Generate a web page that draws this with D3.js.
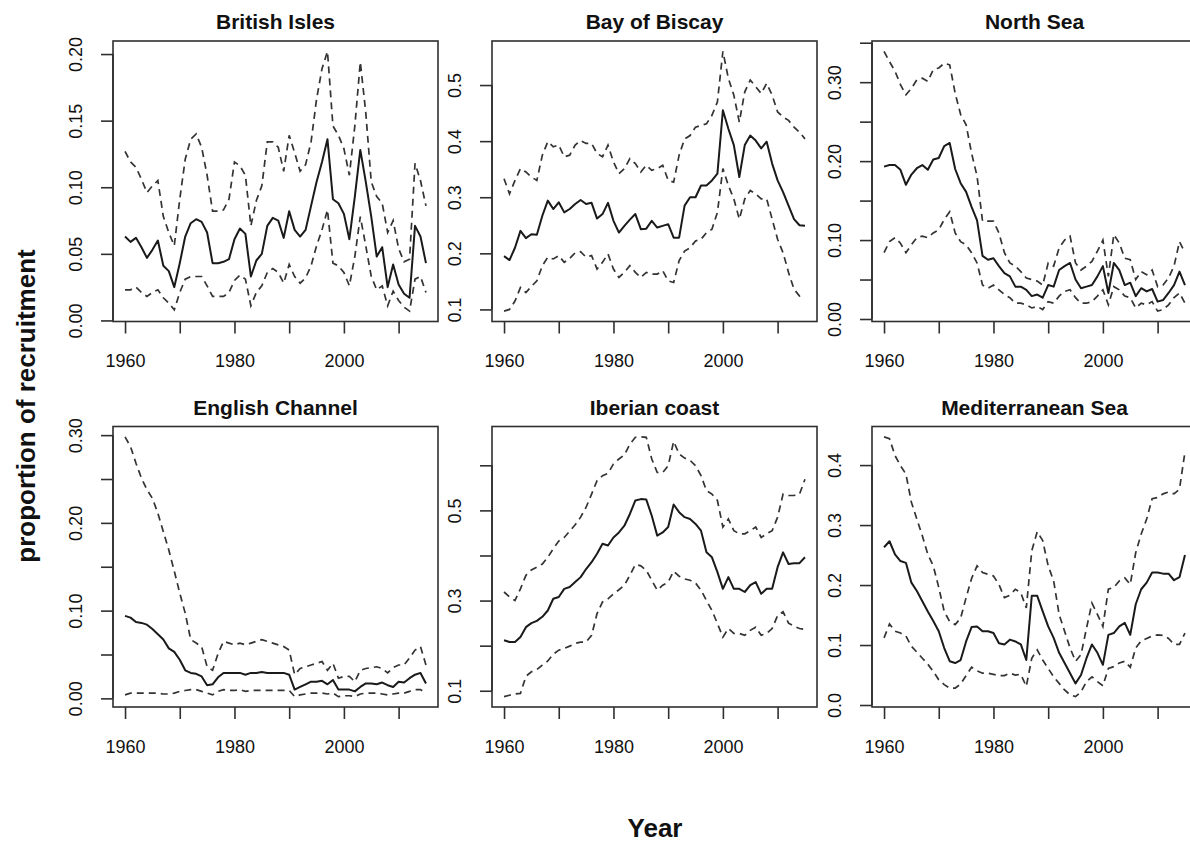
<!DOCTYPE html>
<html>
<head>
<meta charset="utf-8">
<script src="https://cdn.jsdelivr.net/npm/d3@7"></script>
<style>
  body { margin: 0; background: #fff; }
  text { font-family: "Liberation Sans", Arial, Helvetica, sans-serif; fill: #111; }
  .title { font-weight: bold; font-size: 21px; }
  .tick-label { font-size: 18px; }
  .outer-label { font-weight: bold; font-size: 26px; }
</style>
</head>
<body>
<div class="svg-container"></div>
<script>
var width = 1190;
var height = 843;

var years = [1960, 1961, 1962, 1963, 1964, 1965, 1966, 1967, 1968, 1969,
             1970, 1971, 1972, 1973, 1974, 1975, 1976, 1977, 1978, 1979,
             1980, 1981, 1982, 1983, 1984, 1985, 1986, 1987, 1988, 1989,
             1990, 1991, 1992, 1993, 1994, 1995, 1996, 1997, 1998, 1999,
             2000, 2001, 2002, 2003, 2004, 2005, 2006, 2007, 2008, 2009,
             2010, 2011, 2012, 2013, 2014, 2015];

var regions = ["British Isles", "Bay of Biscay", "North Sea",
               "English Channel", "Iberian coast", "Mediterranean Sea"];

// estimate (solid) and upper / lower bounds (dashed)
var britishMid = [0.063, 0.059, 0.062, 0.055, 0.047, 0.053, 0.060, 0.041, 0.037, 0.025,
                  0.043, 0.063, 0.073, 0.076, 0.074, 0.066, 0.043, 0.043, 0.044, 0.046,
                  0.061, 0.069, 0.065, 0.033, 0.045, 0.050, 0.071, 0.077, 0.075, 0.062,
                  0.082, 0.068, 0.063, 0.068, 0.086, 0.104, 0.119, 0.136, 0.091, 0.088,
                  0.080, 0.061, 0.093, 0.128, 0.104, 0.078, 0.048, 0.055, 0.025, 0.042,
                  0.027, 0.020, 0.017, 0.071, 0.063, 0.043];
var britishUpper = [0.127, 0.119, 0.115, 0.106, 0.096, 0.101, 0.105, 0.078, 0.066, 0.056,
                    0.091, 0.121, 0.136, 0.140, 0.130, 0.109, 0.082, 0.082, 0.083, 0.091,
                    0.119, 0.116, 0.109, 0.071, 0.090, 0.101, 0.134, 0.134, 0.130, 0.112,
                    0.139, 0.126, 0.112, 0.117, 0.134, 0.166, 0.189, 0.202, 0.146, 0.139,
                    0.129, 0.109, 0.146, 0.194, 0.156, 0.104, 0.093, 0.088, 0.066, 0.075,
                    0.054, 0.044, 0.046, 0.118, 0.105, 0.086];
var britishLower = [0.023, 0.023, 0.025, 0.021, 0.018, 0.021, 0.023, 0.017, 0.013, 0.008,
                    0.021, 0.031, 0.033, 0.033, 0.033, 0.026, 0.018, 0.018, 0.018, 0.021,
                    0.030, 0.034, 0.031, 0.011, 0.021, 0.026, 0.036, 0.039, 0.036, 0.028,
                    0.042, 0.033, 0.028, 0.032, 0.041, 0.056, 0.068, 0.083, 0.043, 0.041,
                    0.036, 0.026, 0.048, 0.078, 0.056, 0.033, 0.023, 0.026, 0.011, 0.022,
                    0.015, 0.010, 0.007, 0.031, 0.033, 0.021];

var biscayMid = [0.195, 0.188, 0.210, 0.240, 0.227, 0.234, 0.233, 0.267, 0.294, 0.279,
                 0.291, 0.273, 0.279, 0.288, 0.295, 0.288, 0.290, 0.262, 0.270, 0.290,
                 0.258, 0.237, 0.249, 0.260, 0.270, 0.243, 0.244, 0.258, 0.246, 0.249,
                 0.252, 0.228, 0.228, 0.285, 0.300, 0.300, 0.321, 0.321, 0.330, 0.342,
                 0.455, 0.422, 0.393, 0.336, 0.393, 0.410, 0.401, 0.387, 0.399, 0.360,
                 0.330, 0.309, 0.285, 0.261, 0.250, 0.249];
var biscayUpper = [0.333, 0.306, 0.330, 0.351, 0.345, 0.336, 0.330, 0.375, 0.399, 0.390,
                   0.393, 0.372, 0.375, 0.393, 0.401, 0.396, 0.396, 0.378, 0.372, 0.393,
                   0.363, 0.342, 0.351, 0.369, 0.360, 0.345, 0.357, 0.348, 0.351, 0.357,
                   0.330, 0.327, 0.375, 0.404, 0.410, 0.425, 0.428, 0.431, 0.446, 0.470,
                   0.560, 0.512, 0.482, 0.434, 0.488, 0.509, 0.497, 0.485, 0.503, 0.482,
                   0.452, 0.443, 0.437, 0.425, 0.416, 0.404];
var biscayLower = [0.097, 0.100, 0.115, 0.139, 0.130, 0.141, 0.151, 0.178, 0.193, 0.190,
                   0.196, 0.184, 0.191, 0.201, 0.203, 0.193, 0.196, 0.172, 0.184, 0.199,
                   0.172, 0.157, 0.166, 0.178, 0.166, 0.157, 0.166, 0.163, 0.163, 0.169,
                   0.151, 0.148, 0.187, 0.204, 0.210, 0.222, 0.225, 0.237, 0.243, 0.273,
                   0.351, 0.321, 0.297, 0.261, 0.297, 0.312, 0.306, 0.297, 0.297, 0.261,
                   0.225, 0.201, 0.166, 0.136, 0.124, 0.127];

var northMid = [0.193, 0.195, 0.195, 0.189, 0.170, 0.183, 0.191, 0.195, 0.189, 0.202,
                0.204, 0.219, 0.223, 0.190, 0.172, 0.161, 0.142, 0.125, 0.080, 0.075,
                0.077, 0.067, 0.058, 0.054, 0.041, 0.041, 0.037, 0.029, 0.031, 0.027,
                0.043, 0.041, 0.062, 0.067, 0.071, 0.050, 0.039, 0.041, 0.043, 0.054,
                0.067, 0.033, 0.071, 0.062, 0.043, 0.046, 0.029, 0.039, 0.035, 0.038,
                0.022, 0.024, 0.033, 0.043, 0.060, 0.043];
var northUpper = [0.339, 0.326, 0.314, 0.297, 0.284, 0.292, 0.303, 0.305, 0.301, 0.316,
                  0.318, 0.324, 0.322, 0.286, 0.259, 0.246, 0.210, 0.181, 0.124, 0.124,
                  0.124, 0.109, 0.084, 0.071, 0.067, 0.060, 0.052, 0.050, 0.048, 0.043,
                  0.071, 0.067, 0.090, 0.100, 0.105, 0.071, 0.062, 0.067, 0.073, 0.086,
                  0.100, 0.054, 0.107, 0.096, 0.077, 0.075, 0.050, 0.060, 0.056, 0.062,
                  0.041, 0.043, 0.052, 0.067, 0.098, 0.084];
var northLower = [0.084, 0.098, 0.103, 0.096, 0.084, 0.094, 0.103, 0.105, 0.103, 0.109,
                  0.113, 0.126, 0.136, 0.109, 0.098, 0.094, 0.084, 0.071, 0.043, 0.039,
                  0.043, 0.037, 0.031, 0.027, 0.020, 0.020, 0.018, 0.014, 0.016, 0.012,
                  0.022, 0.020, 0.029, 0.035, 0.037, 0.027, 0.020, 0.020, 0.022, 0.029,
                  0.037, 0.018, 0.041, 0.037, 0.029, 0.027, 0.014, 0.020, 0.018, 0.022,
                  0.010, 0.012, 0.018, 0.027, 0.033, 0.020];

var channelMid = [0.094, 0.092, 0.087, 0.086, 0.084, 0.079, 0.073, 0.067, 0.057, 0.053,
                  0.044, 0.032, 0.029, 0.028, 0.025, 0.015, 0.016, 0.024, 0.029, 0.029,
                  0.029, 0.029, 0.027, 0.029, 0.029, 0.030, 0.029, 0.029, 0.029, 0.029,
                  0.027, 0.010, 0.013, 0.016, 0.019, 0.019, 0.020, 0.016, 0.021, 0.010,
                  0.010, 0.010, 0.008, 0.013, 0.017, 0.017, 0.016, 0.018, 0.015, 0.013,
                  0.019, 0.018, 0.023, 0.027, 0.029, 0.017];
var channelUpper = [0.298, 0.287, 0.268, 0.251, 0.238, 0.228, 0.211, 0.190, 0.169, 0.145,
                    0.120, 0.097, 0.067, 0.063, 0.059, 0.036, 0.032, 0.051, 0.065, 0.063,
                    0.061, 0.063, 0.061, 0.063, 0.065, 0.067, 0.065, 0.063, 0.061, 0.059,
                    0.055, 0.027, 0.034, 0.036, 0.038, 0.040, 0.042, 0.032, 0.040, 0.023,
                    0.025, 0.025, 0.019, 0.032, 0.034, 0.035, 0.036, 0.034, 0.029, 0.035,
                    0.038, 0.038, 0.046, 0.055, 0.059, 0.038];
var channelLower = [0.004, 0.006, 0.006, 0.006, 0.006, 0.006, 0.006, 0.005, 0.005, 0.006,
                    0.008, 0.009, 0.010, 0.010, 0.008, 0.006, 0.004, 0.008, 0.010, 0.009,
                    0.009, 0.010, 0.008, 0.009, 0.009, 0.009, 0.009, 0.009, 0.009, 0.009,
                    0.009, 0.002, 0.004, 0.005, 0.006, 0.006, 0.006, 0.005, 0.006, 0.002,
                    0.003, 0.003, 0.002, 0.005, 0.006, 0.006, 0.006, 0.005, 0.004, 0.005,
                    0.006, 0.006, 0.008, 0.010, 0.010, 0.006];

var iberianMid = [0.212, 0.208, 0.208, 0.219, 0.241, 0.250, 0.255, 0.264, 0.278, 0.304,
                  0.308, 0.326, 0.330, 0.341, 0.352, 0.370, 0.385, 0.404, 0.426, 0.422,
                  0.440, 0.451, 0.466, 0.492, 0.522, 0.525, 0.524, 0.488, 0.444, 0.451,
                  0.463, 0.513, 0.496, 0.485, 0.481, 0.470, 0.455, 0.407, 0.396, 0.363,
                  0.326, 0.352, 0.326, 0.326, 0.319, 0.334, 0.341, 0.315, 0.326, 0.326,
                  0.374, 0.407, 0.381, 0.383, 0.383, 0.396];
var iberianUpper = [0.319, 0.308, 0.300, 0.326, 0.356, 0.368, 0.374, 0.381, 0.396, 0.415,
                    0.432, 0.440, 0.454, 0.468, 0.485, 0.507, 0.536, 0.566, 0.577, 0.582,
                    0.603, 0.614, 0.623, 0.647, 0.662, 0.663, 0.662, 0.614, 0.584, 0.584,
                    0.599, 0.653, 0.625, 0.616, 0.611, 0.599, 0.577, 0.544, 0.536, 0.522,
                    0.463, 0.481, 0.455, 0.448, 0.448, 0.455, 0.463, 0.440, 0.448, 0.455,
                    0.485, 0.536, 0.533, 0.533, 0.536, 0.569];
var iberianLower = [0.087, 0.090, 0.093, 0.094, 0.132, 0.142, 0.147, 0.157, 0.166, 0.181,
                    0.190, 0.194, 0.199, 0.205, 0.208, 0.208, 0.223, 0.271, 0.297, 0.304,
                    0.315, 0.324, 0.334, 0.356, 0.380, 0.377, 0.367, 0.345, 0.323, 0.334,
                    0.341, 0.365, 0.354, 0.348, 0.345, 0.339, 0.323, 0.300, 0.278, 0.249,
                    0.219, 0.238, 0.227, 0.227, 0.223, 0.234, 0.241, 0.223, 0.227, 0.238,
                    0.267, 0.275, 0.250, 0.243, 0.238, 0.236];

var medMid = [0.263, 0.273, 0.251, 0.240, 0.237, 0.204, 0.190, 0.173, 0.156, 0.140,
              0.123, 0.095, 0.073, 0.070, 0.075, 0.106, 0.130, 0.131, 0.123, 0.123,
              0.120, 0.103, 0.101, 0.109, 0.106, 0.101, 0.075, 0.182, 0.182, 0.156,
              0.131, 0.112, 0.087, 0.070, 0.053, 0.036, 0.050, 0.078, 0.101, 0.087,
              0.067, 0.117, 0.120, 0.131, 0.137, 0.117, 0.168, 0.193, 0.204, 0.221,
              0.221, 0.219, 0.219, 0.208, 0.213, 0.250];
var medUpper = [0.447, 0.444, 0.416, 0.399, 0.385, 0.338, 0.310, 0.282, 0.251, 0.232,
                0.196, 0.156, 0.139, 0.134, 0.145, 0.179, 0.211, 0.232, 0.221, 0.218,
                0.215, 0.201, 0.179, 0.183, 0.193, 0.187, 0.162, 0.257, 0.289, 0.274,
                0.232, 0.207, 0.151, 0.123, 0.095, 0.073, 0.084, 0.128, 0.170, 0.151,
                0.131, 0.193, 0.196, 0.207, 0.212, 0.201, 0.254, 0.285, 0.310, 0.344,
                0.346, 0.352, 0.355, 0.352, 0.360, 0.422];
var medLower = [0.112, 0.135, 0.123, 0.120, 0.115, 0.098, 0.088, 0.078, 0.068, 0.056,
                0.042, 0.034, 0.028, 0.028, 0.035, 0.049, 0.063, 0.057, 0.053, 0.053,
                0.051, 0.049, 0.049, 0.053, 0.050, 0.051, 0.031, 0.078, 0.092, 0.075,
                0.061, 0.047, 0.036, 0.025, 0.017, 0.014, 0.022, 0.039, 0.047, 0.039,
                0.032, 0.061, 0.064, 0.070, 0.073, 0.063, 0.095, 0.107, 0.111, 0.115,
                0.117, 0.116, 0.111, 0.101, 0.101, 0.120];

// tick values and the labels R kept (overlapping ones are dropped)
var xTicks = [1960, 1970, 1980, 1990, 2000, 2010];
var xTickLabels = ["1960", "", "1980", "", "2000", ""];

var britishTicks = [0, 0.05, 0.10, 0.15, 0.20];
var britishLabels = ["0.00", "0.05", "0.10", "0.15", "0.20"];
var biscayTicks = [0.1, 0.2, 0.3, 0.4, 0.5];
var biscayLabels = ["0.1", "0.2", "0.3", "0.4", "0.5"];
var northTicks = [0, 0.05, 0.10, 0.15, 0.20, 0.25, 0.30, 0.35];
var northLabels = ["0.00", "", "0.10", "", "0.20", "", "0.30", ""];
var channelTicks = [0, 0.05, 0.10, 0.15, 0.20, 0.25, 0.30];
var channelLabels = ["0.00", "", "0.10", "", "0.20", "", "0.30"];
var iberianTicks = [0.1, 0.2, 0.3, 0.4, 0.5, 0.6];
var iberianLabels = ["0.1", "", "0.3", "", "0.5", ""];
var medTicks = [0, 0.1, 0.2, 0.3, 0.4];
var medLabels = ["0.0", "0.1", "0.2", "0.3", "0.4"];

var panels = [
  { mid: britishMid, upper: britishUpper, lower: britishLower, ticks: britishTicks, labels: britishLabels },
  { mid: biscayMid, upper: biscayUpper, lower: biscayLower, ticks: biscayTicks, labels: biscayLabels },
  { mid: northMid, upper: northUpper, lower: northLower, ticks: northTicks, labels: northLabels },
  { mid: channelMid, upper: channelUpper, lower: channelLower, ticks: channelTicks, labels: channelLabels },
  { mid: iberianMid, upper: iberianUpper, lower: iberianLower, ticks: iberianTicks, labels: iberianLabels },
  { mid: medMid, upper: medUpper, lower: medLower, ticks: medTicks, labels: medLabels }
];

// panel grid
var colLefts = [113, 492, 872];
var rowTops = [41, 426.5];
var panelW = 325;
var panelH = 280.5;
var ink = "#2f2f2f";

var svg = d3.select(".svg-container")
            .append("svg")
            .attr("width", width)
            .attr("height", height)
            .style("display", "block");

svg.append("rect").attr("width", width).attr("height", height).attr("fill", "#fff");

// R style axis range: data range padded by 4% on each side
function padded(extent) {
  var pad = (extent[1] - extent[0]) * 0.04;
  return [extent[0] - pad, extent[1] + pad];
}

var x = d3.scaleLinear()
          .domain(padded(d3.extent(years)))
          .range([0, panelW]);

panels.forEach(drawPanel);

function drawPanel(panel, i) {
  var g = svg.append("g")
             .attr("transform", "translate(" + colLefts[i % 3] + "," + rowTops[Math.floor(i / 3)] + ")");

  var all = panel.mid.concat(panel.upper, panel.lower);
  var y = d3.scaleLinear()
            .domain(padded(d3.extent(all)))
            .range([panelH, 0]);

  var line = d3.line()
               .x(function(d, j) { return x(years[j]); })
               .y(function(d) { return y(d); });

  g.append("path").datum(panel.upper)
   .attr("fill", "none").attr("stroke", "#333").attr("stroke-width", 1.7)
   .attr("stroke-dasharray", "7,5").attr("d", line);
  g.append("path").datum(panel.lower)
   .attr("fill", "none").attr("stroke", "#333").attr("stroke-width", 1.7)
   .attr("stroke-dasharray", "7,5").attr("d", line);
  g.append("path").datum(panel.mid)
   .attr("fill", "none").attr("stroke", "#1a1a1a").attr("stroke-width", 2)
   .attr("stroke-linejoin", "round").attr("d", line);

  // box
  g.append("rect")
   .attr("width", panelW).attr("height", panelH)
   .attr("fill", "none").attr("stroke", ink).attr("stroke-width", 1.6);

  // y axis
  var yAxis = g.append("g")
               .attr("color", ink)
               .call(d3.axisLeft(y)
                       .tickValues(panel.ticks)
                       .tickSize(12)
                       .tickFormat(function(d, j) { return panel.labels[j]; }));
  yAxis.select(".domain").remove();
  yAxis.selectAll("line").attr("stroke-width", 1.6);
  yAxis.selectAll("text")
       .attr("class", "tick-label")
       .attr("x", 0)
       .attr("dy", "0.36em")
       .attr("text-anchor", "middle")
       .attr("transform", "translate(-37,0) rotate(-90)");
  g.append("line")
   .attr("x1", 0).attr("x2", 0)
   .attr("y1", y(panel.ticks[0])).attr("y2", y(panel.ticks[panel.ticks.length - 1]))
   .attr("stroke", ink).attr("stroke-width", 1.6);

  // x axis
  var xAxis = g.append("g")
               .attr("transform", "translate(0," + panelH + ")")
               .attr("color", ink)
               .call(d3.axisBottom(x)
                       .tickValues(xTicks)
                       .tickSize(12)
                       .tickFormat(function(d, j) { return xTickLabels[j]; }));
  xAxis.select(".domain").remove();
  xAxis.selectAll("line").attr("stroke-width", 1.6);
  xAxis.selectAll("text")
       .attr("class", "tick-label")
       .attr("y", 39.5)
       .attr("dy", "0.36em");

  g.append("text")
   .attr("class", "title")
   .attr("x", panelW / 2)
   .attr("y", -12)
   .attr("text-anchor", "middle")
   .text(regions[i]);
}

svg.append("text")
   .attr("class", "outer-label")
   .attr("transform", "translate(35,406) rotate(-90)")
   .attr("text-anchor", "middle")
   .text("proportion of recruitment");

svg.append("text")
   .attr("class", "outer-label")
   .attr("x", 655)
   .attr("y", 837)
   .attr("text-anchor", "middle")
   .text("Year");
</script>
</body>
</html>
